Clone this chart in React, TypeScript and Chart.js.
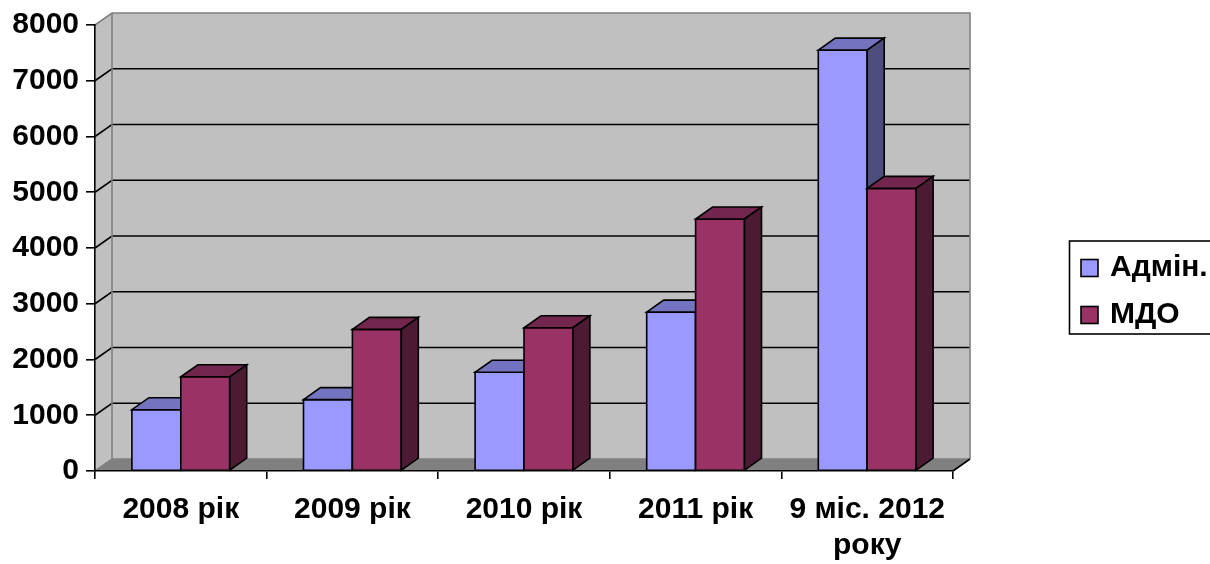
import React, { useEffect, useRef } from 'react';
import { Chart, registerables } from 'chart.js';

Chart.register(...registerables);

// ---- data ----
const categories: (string | string[])[] = ['2008 рік', '2009 рік', '2010 рік', '2011 рік', ['9 міс. 2012', 'року']];
const seriesLabels = ['Адмін.', 'МДО'];
const adminValues = [1100, 1280, 1770, 2850, 7550];
const mdoValues = [1690, 2540, 2570, 4520, 5070];
const yMin = 0;
const yMax = 8000;
const yStep = 1000;

// ---- styles ----
const FRONT = ['#9999FF', '#993366'];
const TOP = ['#7373BF', '#73264D'];
const SIDE = ['#4D4D80', '#4D1A33'];
const WALL = '#C0C0C0';
const FLOOR = '#808080';
const EDGE = '#808080';
const DX = 17;
const DY = 12;
const FONT = "'Liberation Sans', Arial, Helvetica, sans-serif";

const wallsPlugin = {
  id: 'walls3d',
  beforeDraw(chart: any) {
    const { ctx, chartArea: a, scales } = chart;
    const y = scales.y;
    const L = a.left, R = a.right, T = a.top, B = a.bottom;
    ctx.save();
    // back wall
    ctx.fillStyle = WALL;
    ctx.fillRect(L + DX, T - DY, R - L, B - T);
    // side wall
    ctx.beginPath();
    ctx.moveTo(L, T);
    ctx.lineTo(L + DX, T - DY);
    ctx.lineTo(L + DX, B - DY);
    ctx.lineTo(L, B);
    ctx.closePath();
    ctx.fill();
    // floor
    ctx.fillStyle = FLOOR;
    ctx.beginPath();
    ctx.moveTo(L, B);
    ctx.lineTo(R, B);
    ctx.lineTo(R + DX, B - DY);
    ctx.lineTo(L + DX, B - DY);
    ctx.closePath();
    ctx.fill();
    // gridlines on walls
    ctx.strokeStyle = '#000';
    ctx.lineWidth = 1.6;
    for (const t of y.ticks) {
      const v = t.value;
      if (v <= yMin || v >= yMax) continue;
      const py = y.getPixelForValue(v);
      ctx.beginPath();
      ctx.moveTo(L, py);
      ctx.lineTo(L + DX, py - DY);
      ctx.lineTo(R + DX, py - DY);
      ctx.stroke();
    }
    // gray edges
    ctx.strokeStyle = EDGE;
    ctx.lineWidth = 1.6;
    ctx.beginPath();
    ctx.moveTo(L, T);
    ctx.lineTo(L + DX, T - DY);
    ctx.lineTo(R + DX, T - DY);
    ctx.lineTo(R + DX, B - DY);
    ctx.moveTo(L + DX, T - DY);
    ctx.lineTo(L + DX, B - DY);
    ctx.moveTo(L, B);
    ctx.lineTo(L + DX, B - DY);
    ctx.lineTo(R + DX, B - DY);
    ctx.stroke();
    // front-right floor edge
    ctx.strokeStyle = '#000';
    ctx.beginPath();
    ctx.moveTo(R, B);
    ctx.lineTo(R + DX, B - DY);
    ctx.stroke();
    ctx.restore();
  },
};

const bars3dPlugin = {
  id: 'bars3d',
  afterDatasetsDraw(chart: any) {
    const { ctx } = chart;
    ctx.save();
    ctx.strokeStyle = '#000';
    ctx.lineWidth = 1.6;
    ctx.lineJoin = 'miter';
    const n = chart.data.labels.length;
    for (let i = 0; i < n; i++) {
      for (let d = 0; d < chart.data.datasets.length; d++) {
        const el = chart.getDatasetMeta(d).data[i];
        if (!el) continue;
        const { x, y, base, width } = el.getProps(['x', 'y', 'base', 'width'], true);
        const l = x - width / 2;
        const r = x + width / 2;
        // front
        ctx.fillStyle = FRONT[d];
        ctx.beginPath();
        ctx.rect(l, y, width, base - y);
        ctx.fill();
        ctx.stroke();
        // top
        ctx.fillStyle = TOP[d];
        ctx.beginPath();
        ctx.moveTo(l, y);
        ctx.lineTo(r, y);
        ctx.lineTo(r + DX, y - DY);
        ctx.lineTo(l + DX, y - DY);
        ctx.closePath();
        ctx.fill();
        ctx.stroke();
        // side
        ctx.fillStyle = SIDE[d];
        ctx.beginPath();
        ctx.moveTo(r, y);
        ctx.lineTo(r + DX, y - DY);
        ctx.lineTo(r + DX, base - DY);
        ctx.lineTo(r, base);
        ctx.closePath();
        ctx.fill();
        ctx.stroke();
      }
    }
    ctx.restore();
  },
};

const legendPlugin = {
  id: 'legendBox',
  afterDraw(chart: any) {
    const { ctx } = chart;
    ctx.save();
    ctx.strokeStyle = '#000';
    ctx.lineWidth = 1.6;
    ctx.strokeRect(1069.5, 241, 170, 93);
    const rows = [268, 315];
    chart.data.datasets.forEach((ds: any, i: number) => {
      const cy = rows[i];
      ctx.fillStyle = FRONT[i];
      ctx.fillRect(1081, cy - 8.5, 17, 17);
      ctx.strokeRect(1081, cy - 8.5, 17, 17);
      ctx.fillStyle = '#000';
      ctx.font = `bold 30px ${FONT}`;
      ctx.textBaseline = 'middle';
      ctx.textAlign = 'left';
      ctx.fillText(ds.label, 1110, cy);
    });
    ctx.restore();
  },
};

export default function App() {
  const ref = useRef<HTMLCanvasElement>(null);
  useEffect(() => {
    const canvas = ref.current;
    if (!canvas) return;
    const chart = new Chart(canvas, {
      type: 'bar',
      data: {
        labels: categories,
        datasets: [
          {
            label: seriesLabels[0],
            data: adminValues,
            backgroundColor: FRONT[0],
            borderColor: '#000',
            borderWidth: 1.6,
            categoryPercentage: 0.57,
            barPercentage: 1.0,
          },
          {
            label: seriesLabels[1],
            data: mdoValues,
            backgroundColor: FRONT[1],
            borderColor: '#000',
            borderWidth: 1.6,
            categoryPercentage: 0.57,
            barPercentage: 1.0,
          },
        ],
      },
      options: {
        responsive: false,
        animation: false,
        devicePixelRatio: 1,
        layout: { padding: { left: 0, right: 257, top: 25, bottom: 0 } },
        plugins: {
          legend: { display: false },
          tooltip: { enabled: false },
        },
        scales: {
          x: {
            offset: true,
            grid: {
              offset: true,
              drawOnChartArea: false,
              drawTicks: true,
              tickLength: 8,
              color: '#000',
              lineWidth: 1.6,
            },
            border: { display: true, color: '#000', width: 1.6 },
            ticks: {
              color: '#000',
              font: { family: FONT, size: 30, weight: 'bold', lineHeight: 1.22 },
              padding: 12,
              maxRotation: 0,
              minRotation: 0,
              autoSkip: false,
            },
            afterFit: (s: any) => {
              s.height = 93;
            },
          },
          y: {
            min: yMin,
            max: yMax,
            grid: {
              drawOnChartArea: false,
              drawTicks: true,
              tickLength: 9,
              color: '#000',
              lineWidth: 1.6,
            },
            border: { display: true, color: '#000', width: 1.6 },
            ticks: {
              stepSize: yStep,
              color: '#000',
              font: { family: FONT, size: 30, weight: 'bold' },
              padding: 7,
              callback: (v: any) => String(v),
            },
            afterFit: (s: any) => {
              s.width = 95;
            },
          },
        },
      },
      plugins: [wallsPlugin, bars3dPlugin, legendPlugin],
    } as any);
    return () => chart.destroy();
  }, []);
  return (
    <div style={{ position: 'absolute', left: 0, top: 0, width: 1210, height: 564, background: '#fff' }}>
      <canvas ref={ref} width={1210} height={564} style={{ display: 'block' }} />
    </div>
  );
}
